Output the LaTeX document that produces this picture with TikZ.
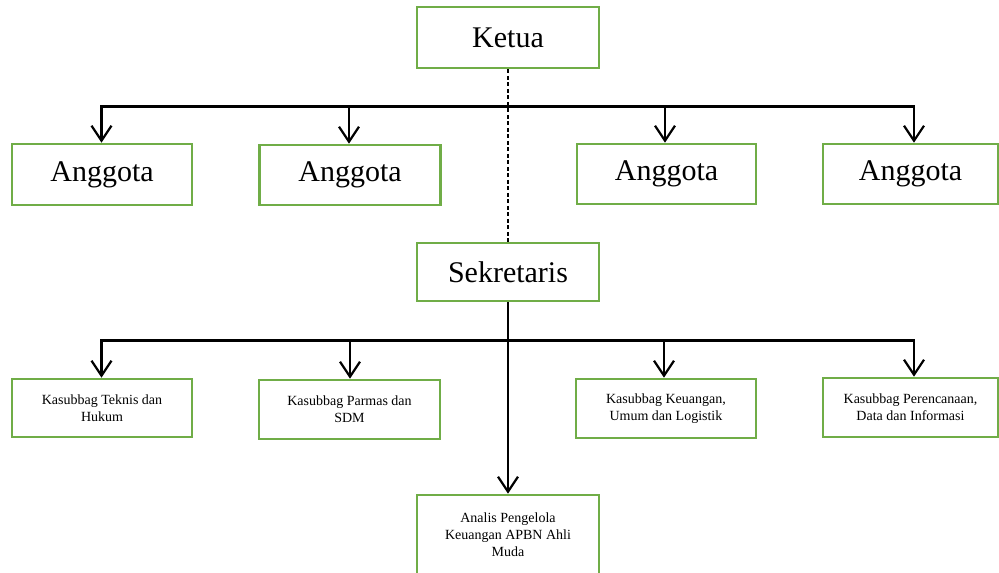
\documentclass[tikz,border=0pt]{standalone}
\usepackage{fontspec}
\setmainfont{Liberation Serif}
\usetikzlibrary{arrows.meta}
\definecolor{boxgreen}{RGB}{112,173,71}
\tikzset{
  x=1pt,y=-1pt,
  bigbox/.style={draw=boxgreen, line width=2.6pt, fill=white, inner sep=0pt, align=center,
    font=\fontsize{30}{34}\selectfont},
  smallbox/.style={draw=boxgreen, line width=2.6pt, fill=white, inner sep=0pt, align=center,
    font=\fontsize{14}{17}\selectfont},
  busline/.style={line width=3pt},
  arr/.style={line width=2.2pt, -{Straight Barb[length=15pt,width=20pt]}},
  dashline/.style={line width=1.6pt, dash pattern=on 4pt off 2.5pt},
}
\begin{document}
\begin{tikzpicture}
\useasboundingbox (0,0) rectangle (999,573);
% top level
\node[bigbox, minimum width=182pt, minimum height=61pt] (K) at (508,37.5) {Ketua};
\node[bigbox, minimum width=182pt, minimum height=58pt] (S) at (508,272) {Sekretaris};
\node[bigbox, minimum width=180pt, minimum height=61pt] (A1) at (102,174.5) {Anggota};
\node[bigbox, minimum width=181pt, minimum height=60pt] (A2) at (350,175) {Anggota};
\node[bigbox, minimum width=179pt, minimum height=60pt] (A3) at (666.5,174) {Anggota};
\node[bigbox, minimum width=175pt, minimum height=60pt] (A4) at (910.5,174) {Anggota};
% bottom level
\node[smallbox, minimum width=180pt, minimum height=58pt] (B1) at (102,408) {Kasubbag Teknis dan\\Hukum};
\node[smallbox, minimum width=181pt, minimum height=59pt] (B2) at (349.5,409.5) {Kasubbag Parmas dan\\SDM};
\node[smallbox, minimum width=180pt, minimum height=59pt] (B3) at (666,408.5) {Kasubbag Keuangan,\\Umum dan Logistik};
\node[smallbox, minimum width=175pt, minimum height=59pt] (B4) at (910.5,407.5) {Kasubbag Perencanaan,\\Data dan Informasi};
\node[smallbox, minimum width=182pt, minimum height=80pt] (An) at (508,535) {Analis Pengelola\\Keuangan APBN Ahli\\Muda};
% dashed Ketua - Sekretaris
\draw[dashline] (K.south) -- (S.north);
% top bus
\coordinate (t1) at (101.5,106);
\coordinate (t2) at (349,106);
\coordinate (t3) at (665,106);
\coordinate (t4) at (914,106);
\draw[busline] ([xshift=-1.1pt]t1) -- ([xshift=1.1pt]t4);
\draw[arr] ([yshift=-1.4pt]t1) -- (t1 |- A1.north);
\draw[arr] (t2) -- (t2 |- A2.north);
\draw[arr] (t3) -- (t3 |- A3.north);
\draw[arr] ([yshift=-1.4pt]t4) -- (t4 |- A4.north);
% bottom bus
\coordinate (u1) at (101.5,340);
\coordinate (u2) at (350,340);
\coordinate (u3) at (664,340);
\coordinate (u4) at (914,340);
\draw[busline] ([xshift=-1.1pt]u1) -- ([xshift=1.1pt]u4);
\draw[arr] ([yshift=-1.4pt]u1) -- (u1 |- B1.north);
\draw[arr] (u2) -- (u2 |- B2.north);
\draw[arr] (u3) -- (u3 |- B3.north);
\draw[arr] ([yshift=-1.4pt]u4) -- (u4 |- B4.north);
\draw[arr] (S.south) -- (An.north);
\end{tikzpicture}
\end{document}
